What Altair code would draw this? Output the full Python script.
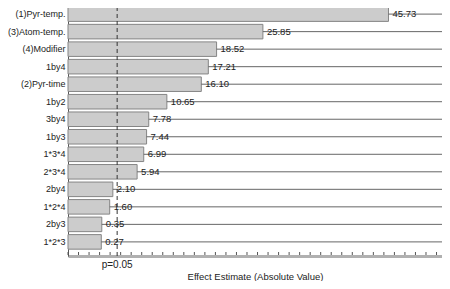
import altair as alt
import pandas as pd

terms = ["(1)Pyr-temp.", "(3)Atom-temp.", "(4)Modifier", "1by4", "(2)Pyr-time",
         "1by2", "3by4", "1by3", "1*3*4", "2*3*4", "2by4", "1*2*4", "2by3", "1*2*3"]
values = [45.73, 25.85, 18.52, 17.21, 16.10, 10.65, 7.78, 7.44, 6.99, 5.94,
          2.10, 1.60, 0.35, 0.27]
x_min, x_max = -5.0, 54.2
p_crit = 2.78
p_label = "p=0.05"
tick_values = [x_min + k * 5.0 / 3.0 for k in range(36)]

df = pd.DataFrame({"term": terms, "value": values})
df["base"] = x_min
df["end"] = x_max
pdf = pd.DataFrame({"p": [p_crit], "label": [p_label]})
tdf = pd.DataFrame({"t": tick_values})

FONT = "Liberation Sans"
xscale = alt.Scale(domain=[x_min, x_max], nice=False, zero=False)
yenc = alt.Y("term:N", sort=terms,
             scale=alt.Scale(paddingInner=0.17, paddingOuter=0.39),
             axis=alt.Axis(title=None, ticks=False, labelPadding=3, labelFontSize=9,
                           labelFont=FONT, labelColor="#222", labelLimit=200,
                           domainColor="#555"))

base = alt.Chart(df)
bars = base.mark_bar(fill="#cccccc", stroke="#858585", strokeWidth=1).encode(
    y=yenc,
    x=alt.X("base:Q", scale=xscale,
            axis=alt.Axis(title="Effect Estimate (Absolute Value)", ticks=False, labels=False,
                          grid=False, domainColor="#b0b0b0", domainWidth=3,
                          titleFont=FONT, titleFontSize=9.5, titleFontWeight="normal",
                          titleColor="#222", titlePadding=15)),
    x2="value:Q",
)
lines = base.mark_rule(color="#666", strokeWidth=1).encode(
    y=alt.Y("term:N", sort=terms), x="value:Q", x2="end:Q")
labels = base.mark_text(align="left", baseline="middle", dx=4, fontSize=9.5,
                        font=FONT, color="#222").encode(
    y=alt.Y("term:N", sort=terms), x="value:Q",
    text=alt.Text("value:Q", format=".2f"))
pline = alt.Chart(pdf).mark_rule(color="#333", strokeDash=[4, 3], strokeWidth=1).encode(
    x="p:Q")
ticks = alt.Chart(tdf).mark_rule(color="#555").encode(
    x="t:Q", y=alt.value(252), y2=alt.value(255))
ptext = alt.Chart(pdf).mark_text(align="center", baseline="middle", fontSize=10,
                                 font=FONT, color="#222").encode(
    x="p:Q", y=alt.value(265), text="label:N")

chart = alt.layer(bars, lines, labels, pline, ticks, ptext).properties(
    width=374, height=256,
    autosize=alt.AutoSizeParams(type="none"),
    padding={"left": 60, "top": -8, "right": 0, "bottom": 25},
).configure_view(stroke="#777", strokeWidth=1)

chart.save("out.html", embed_options={"renderer": "svg", "actions": False})
